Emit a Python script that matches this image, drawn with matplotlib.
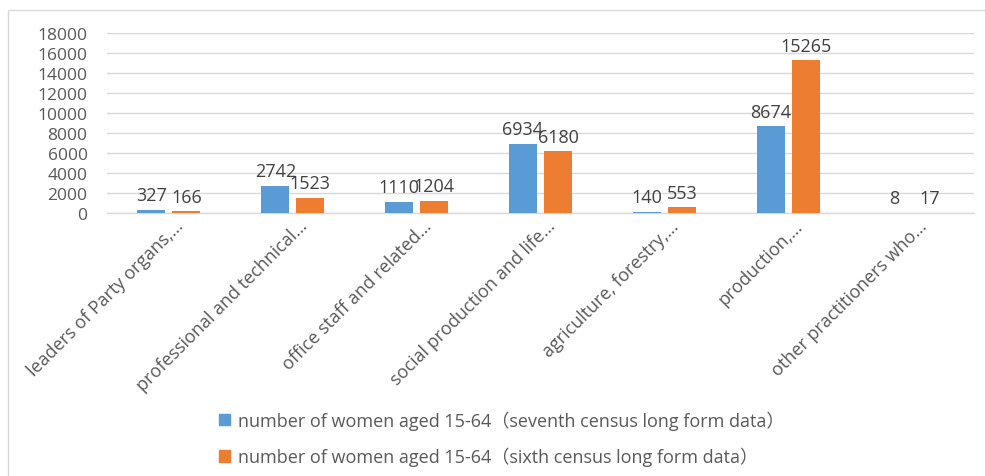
import matplotlib
matplotlib.use("Agg")
import matplotlib.pyplot as plt
import matplotlib.transforms as mtransforms
from matplotlib.patches import Rectangle, Patch
import numpy as np

categories = [
    "leaders of Party organs,\u2026",
    "professional and technical\u2026",
    "office staff and related\u2026",
    "social production and life\u2026",
    "agriculture, forestry,\u2026",
    "production,\u2026",
    "other practitioners who\u2026",
]
seventh = [327, 2742, 1110, 6934, 140, 8674, 8]
sixth = [166, 1523, 1204, 6180, 553, 15265, 17]
series_names = [
    "number of women aged 15-64\uff08seventh census long form data\uff09",
    "number of women aged 15-64\uff08sixth census long form data\uff09",
]
yticks = list(range(0, 18001, 2000))

BLUE = "#5B9BD5"
ORANGE = "#ED7D31"
FONT = ["Open Sans", "Noto Sans CJK SC", "DejaVu Sans"]
plt.rcParams["font.family"] = FONT

W, H = 985, 477
fig = plt.figure(figsize=(W / 100, H / 100), dpi=100)
ax = fig.add_axes([107 / W, 1 - 214 / H, (974 - 107) / W, (214 - 34) / H])

x = np.arange(len(categories))
bw = 0.226
off = 0.141
b1 = ax.bar(x - off, seventh, bw, color=BLUE, zorder=3)
b2 = ax.bar(x + off, sixth, bw, color=ORANGE, zorder=3)

for bars, vals in ((b1, seventh), (b2, sixth)):
    for r, v in zip(bars, vals):
        ax.annotate(str(v), (r.get_x() + r.get_width() / 2, r.get_height()),
                    xytext=(0, 4), textcoords="offset points",
                    ha="center", va="bottom", fontsize=13, color="#404040")

ax.set_xlim(-0.5, len(categories) - 0.5)
ax.set_ylim(0, 18000)
ax.set_yticks(yticks)
ax.set_yticklabels([str(t) for t in yticks], fontsize=12.5, color="#595959")
ax.tick_params(axis="y", length=0, pad=14)
ax.tick_params(axis="x", length=0, pad=0)
ax.set_xticks(x)
ax.set_xticklabels(categories, rotation=45, ha="right", va="center",
                   rotation_mode="anchor", fontsize=13, color="#595959")
offset = mtransforms.ScaledTranslation(12 / 100, -10 / 100, fig.dpi_scale_trans)
for lab in ax.get_xticklabels():
    lab.set_transform(lab.get_transform() + offset)

ax.grid(axis="y", color="#D9D9D9", linewidth=1, zorder=0)
for s in ("top", "right", "left"):
    ax.spines[s].set_visible(False)
ax.spines["bottom"].set_color("#D9D9D9")
ax.spines["bottom"].set_linewidth(1)

handles = [Patch(color=BLUE), Patch(color=ORANGE)]
fig.legend(handles, series_names, loc="upper left",
           bbox_to_anchor=(203 / W, 1 - 395 / H), frameon=False,
           fontsize=13, handlelength=0.6, handleheight=0.6,
           handletextpad=0.45, labelspacing=0.95, labelcolor="#595959")

fig.patches.append(Rectangle((8 / W, -0.05), 1.1, 1 - 11 / H + 0.05,
                             transform=fig.transFigure, fill=False,
                             edgecolor="#D9D9D9", linewidth=1))

fig.savefig("out.png", dpi=100)
